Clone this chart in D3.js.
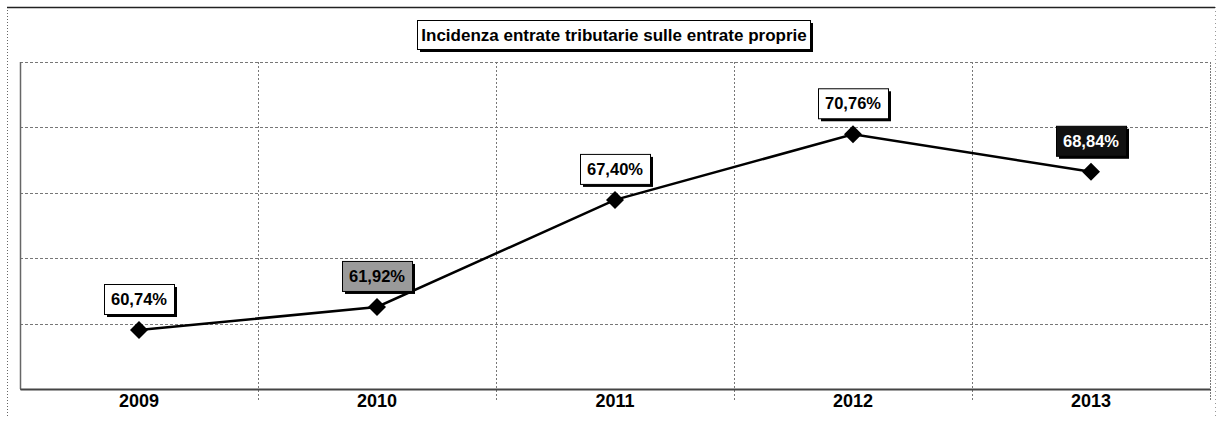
<!DOCTYPE html>
<html>
<head>
<meta charset="utf-8">
<script src="https://cdn.jsdelivr.net/npm/d3@7"></script>
<style>
  html, body { margin: 0; padding: 0; background: #fff; }
  svg { display: block; font-family: "Liberation Sans", Arial, sans-serif; }
</style>
</head>
<body>
<div id="chart"></div>
<script>
// Data
const years = ['2009', '2010', '2011', '2012', '2013'];
const values = [60.74, 61.92, 67.40, 70.76, 68.84];
const valueLabels = ['60,74%', '61,92%', '67,40%', '70,76%', '68,84%'];
const gridValues = [57.72, 61.07, 64.42, 67.77, 71.12, 74.46];
const chartTitle = 'Incidenza entrate tributarie sulle entrate proprie';

const W = 1223, H = 421;
const margin = { top: 62, right: 13, bottom: 32, left: 20 };
const plotW = W - margin.left - margin.right;
const plotH = H - margin.top - margin.bottom;

const svg = d3.select('#chart').append('svg')
    .attr('width', W)
    .attr('height', H);

// Outer frame (scan border)
svg.append('line')
    .attr('x1', 7.5).attr('x2', 7.5).attr('y1', 7).attr('y2', 418)
    .attr('stroke', '#666').attr('stroke-width', 1).attr('stroke-dasharray', '1,2');
svg.append('line')
    .attr('x1', 1215.5).attr('x2', 1215.5).attr('y1', 7).attr('y2', 418)
    .attr('stroke', '#999').attr('stroke-width', 1).attr('stroke-dasharray', '1,3');
svg.append('line')
    .attr('x1', 7).attr('x2', 1215).attr('y1', 7.5).attr('y2', 7.5)
    .attr('stroke', '#222').attr('stroke-width', 1.5);

const g = svg.append('g')
    .attr('transform', `translate(${margin.left},${margin.top})`);

const x = d3.scaleBand().domain(years).range([0, plotW]).padding(0);
const y = d3.scaleLinear().domain([gridValues[0], gridValues[gridValues.length - 1]]).range([plotH, 0]);

// Horizontal gridlines
g.append('g')
    .selectAll('line')
    .data(gridValues)
    .join('line')
    .attr('x1', 0).attr('x2', plotW)
    .attr('y1', d => Math.round(y(d)) + 0.5)
    .attr('y2', d => Math.round(y(d)) + 0.5)
    .attr('stroke', '#777')
    .attr('stroke-width', 1)
    .attr('stroke-dasharray', '3,2');

// Vertical gridlines at band boundaries (with small tick below axis)
g.append('g')
    .selectAll('line')
    .data(years.slice(1))
    .join('line')
    .attr('x1', d => Math.round(x(d)) + 0.5)
    .attr('x2', d => Math.round(x(d)) + 0.5)
    .attr('y1', 0).attr('y2', plotH + 12)
    .attr('stroke', '#777')
    .attr('stroke-width', 1)
    .attr('stroke-dasharray', '2,2');

// Plot frame
g.append('line')
    .attr('x1', 0.5).attr('x2', 0.5).attr('y1', 0).attr('y2', plotH)
    .attr('stroke', '#666').attr('stroke-width', 1.5);
g.append('line')
    .attr('x1', plotW + 0.5).attr('x2', plotW + 0.5).attr('y1', 0).attr('y2', plotH + 12)
    .attr('stroke', '#777').attr('stroke-width', 1).attr('stroke-dasharray', '2,1');

// X axis
const xAxis = g.append('g')
    .attr('transform', `translate(0,${plotH})`)
    .attr('font-size', null)
    .call(d3.axisBottom(x).tickSize(0).tickPadding(5));
xAxis.select('.domain').attr('stroke', '#444').attr('stroke-width', 2);
xAxis.selectAll('text')
    .attr('fill', '#000')
    .attr('font-size', 18)
    .style('font-size', '18px')
    .style('font-weight', 'bold')
    .style('font-family', '"Liberation Sans", Arial, sans-serif');

// Line
const line = d3.line()
    .x((d, i) => x(years[i]) + x.bandwidth() / 2)
    .y(d => y(d));
g.append('path')
    .datum(values)
    .attr('d', line)
    .attr('fill', 'none')
    .attr('stroke', '#000')
    .attr('stroke-width', 2.5);

// Diamond markers
g.selectAll('.marker')
    .data(values)
    .join('path')
    .attr('class', 'marker')
    .attr('transform', (d, i) => `translate(${x(years[i]) + x.bandwidth() / 2},${y(d)})`)
    .attr('d', 'M0,-9L9,0L0,9L-9,0Z')
    .attr('fill', '#000');

// Value labels
const labelFill = ['#fff', '#9a9a9a', '#fff', '#fff', '#111'];
const labelText = ['#000', '#000', '#000', '#000', '#fff'];
const boxW = 70, boxH = 30;
const lab = g.selectAll('.vlabel')
    .data(values)
    .join('g')
    .attr('class', 'vlabel')
    .attr('transform', (d, i) => `translate(${x(years[i]) + x.bandwidth() / 2},${y(d) - 16 - boxH})`);
lab.append('rect')
    .attr('x', -boxW / 2 + 3).attr('y', 3)
    .attr('width', boxW).attr('height', boxH)
    .attr('fill', '#000');
lab.append('rect')
    .attr('x', -boxW / 2 + 0.5).attr('y', 0.5)
    .attr('width', boxW).attr('height', boxH)
    .attr('fill', (d, i) => labelFill[i])
    .attr('stroke', '#000')
    .attr('stroke-width', 1);
lab.append('text')
    .attr('x', 0).attr('y', boxH / 2 + 6)
    .attr('text-anchor', 'middle')
    .attr('fill', (d, i) => labelText[i])
    .style('font-size', '16.5px')
    .style('font-weight', 'bold')
    .text((d, i) => valueLabels[i]);

// Title box
const tb = svg.append('g').attr('transform', 'translate(417,20)');
tb.append('rect')
    .attr('x', 3).attr('y', 3)
    .attr('width', 393).attr('height', 29)
    .attr('fill', '#000');
tb.append('rect')
    .attr('x', 0.5).attr('y', 0.5)
    .attr('width', 393).attr('height', 29)
    .attr('fill', '#fff')
    .attr('stroke', '#000');
tb.append('text')
    .attr('x', 197).attr('y', 21)
    .attr('text-anchor', 'middle')
    .style('font-size', '17px')
    .style('font-weight', 'bold')
    .text(chartTitle);
</script>
</body>
</html>
